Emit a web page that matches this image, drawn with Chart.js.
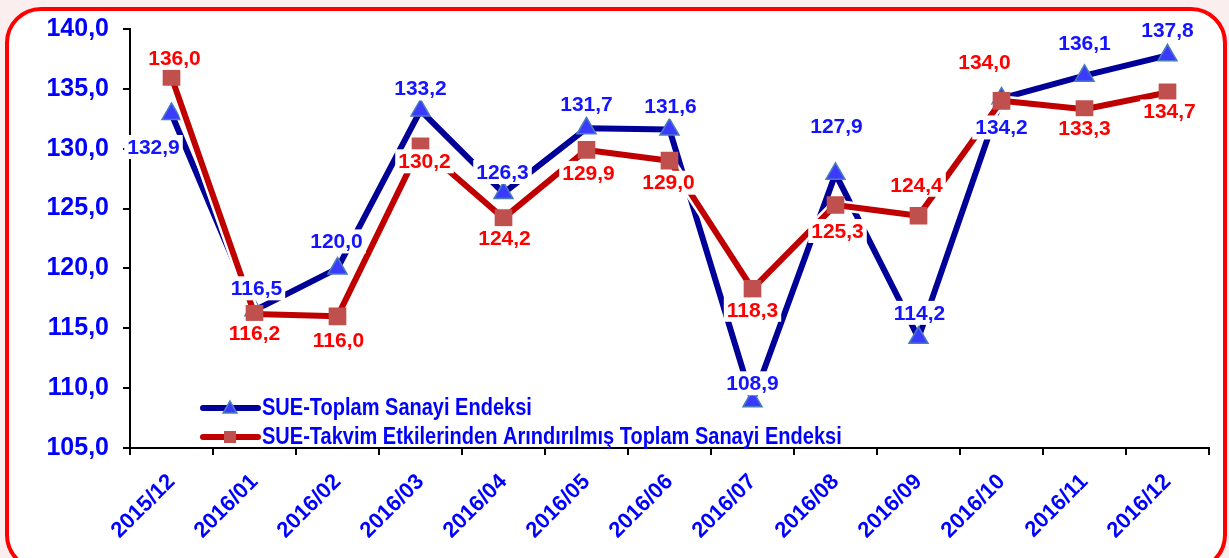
<!DOCTYPE html>
<html>
<head>
<meta charset="utf-8">
<script src="https://cdn.jsdelivr.net/npm/chart.js@4/dist/chart.umd.min.js"></script>
<style>
  html, body { margin: 0; padding: 0; background: #fbeeee; }
  #wrap { width: 1229px; height: 558px; position: relative; }
</style>
</head>
<body>
<div id="wrap"><canvas id="chart" width="1229" height="558"></canvas></div>
<script>
let months = ["2015/12", "2016/01", "2016/02", "2016/03", "2016/04", "2016/05", "2016/06",
              "2016/07", "2016/08", "2016/09", "2016/10", "2016/11", "2016/12"]
let toplam = [132.9, 116.5, 120.0, 133.2, 126.3, 131.7, 131.6, 108.9, 127.9, 114.2, 134.2, 136.1, 137.8]
let takvim = [136.0, 116.2, 116.0, 130.2, 124.2, 129.9, 129.0, 118.3, 125.3, 124.4, 134.0, 133.3, 134.7]
let seriesNames = ["SUE-Toplam Sanayi Endeksi", "SUE-Takvim Etkilerinden Arındırılmış Toplam Sanayi Endeksi"]
let yTicks = [105, 110, 115, 120, 125, 130, 135, 140]

// label placement (dx, dy from the point), not data
const blueOff = [[-18, 33], [2, -22], [-1, -27], [0, -22], [-1, -21], [0, -24], [1, -23],
                 [0, -18], [1, -48], [1, -25], [0, 29], [0, -32], [0, -25]]
const redOff = [[3, -19], [0, 19], [1, 24], [4, 15], [1, 20], [2, 23], [-1, 22],
                [0, 21], [2, 26], [-2, -31], [-17, -39], [0, 19], [2, 19]]

const FONT = '"Liberation Sans", Arial, sans-serif'
const BLUE = '#000099', RED = '#c00000'

const framePlugin = {
  id: 'frame',
  beforeDraw(chart) {
    const c = chart.ctx
    c.save()
    c.fillStyle = '#fbeeee'
    c.fillRect(0, 0, chart.width, chart.height)
    c.beginPath()
    c.roundRect(7, 9, 1218, 560, 34)
    c.fillStyle = '#ffffff'
    c.fill()
    c.lineWidth = 4
    c.strokeStyle = '#ff0000'
    c.stroke()
    c.restore()
  }
}

function drawTri(c, x, y, r) {
  c.beginPath()
  c.moveTo(x, y - r)
  c.lineTo(x + r * 0.866, y + r * 0.5)
  c.lineTo(x - r * 0.866, y + r * 0.5)
  c.closePath()
  c.fillStyle = '#3b3bff'
  c.fill()
  c.lineWidth = 1.5
  c.strokeStyle = '#4a7ebb'
  c.stroke()
}

const labelPlugin = {
  id: 'labels',
  afterDatasetsDraw(chart) {
    const c = chart.ctx
    c.save()
    c.font = 'bold 21px ' + FONT
    c.textAlign = 'center'
    c.textBaseline = 'middle'
    const sets = [[1, toplam, blueOff, '#1414ff'], [3, takvim, redOff, '#ff0000']]
    sets.forEach(([idx, vals, off, col]) => {
      const meta = chart.getDatasetMeta(idx)
      meta.data.forEach((pt, i) => {
        const txt = vals[i].toFixed(1).replace('.', ',')
        const x = pt.x + off[i][0], y = pt.y + off[i][1]
        const w = c.measureText(txt).width
        c.fillStyle = '#ffffff'
        c.fillRect(x - w / 2 - 3, y - 12, w + 6, 24)
        c.fillStyle = col
        c.fillText(txt, x, y + 1)
      })
    })
    c.restore()
  },
  afterDraw(chart) {
    const c = chart.ctx
    c.save()
    const rows = [[408, BLUE, 'tri'], [437, RED, 'sq']]
    rows.forEach(([y, col, mk], i) => {
      c.beginPath()
      c.moveTo(203, y); c.lineTo(258, y)
      c.lineWidth = 6; c.lineCap = 'round'; c.strokeStyle = col
      c.stroke()
      if (mk === 'tri') drawTri(c, 230, y + 1, 8)
      else { c.fillStyle = '#c0504d'; c.fillRect(224, y - 6, 12, 12) }
      c.save()
      c.translate(262, y)
      c.scale(0.87, 1)
      c.font = 'bold 23px ' + FONT
      c.fillStyle = '#0000ff'
      c.textBaseline = 'middle'
      c.fillText(seriesNames[i], 0, 1)
      c.restore()
    })
    c.restore()
  }
}

const ctx = document.getElementById('chart').getContext('2d')

new Chart(ctx, {
  type: 'line',
  data: {
    labels: months,
    datasets: [
      { label: 'outline1', data: toplam, borderColor: '#ffffff', borderWidth: 11, pointRadius: 0, order: 4 },
      { label: seriesNames[0], data: toplam, borderColor: BLUE, borderWidth: 6, order: 3,
        pointStyle: 'triangle', pointRadius: 11, pointBackgroundColor: '#3b3bff',
        pointBorderColor: '#4a7ebb', pointBorderWidth: 1.5 },
      { label: 'outline2', data: takvim, borderColor: '#ffffff', borderWidth: 11, pointRadius: 0, order: 2 },
      { label: seriesNames[1], data: takvim, borderColor: RED, borderWidth: 6, order: 1,
        pointStyle: 'rect', pointRadius: 12.5, pointBackgroundColor: '#c0504d',
        pointBorderColor: '#c0504d', pointBorderWidth: 0 }
    ]
  },
  options: {
    responsive: false,
    animation: false,
    layout: { padding: { left: 0, right: 20, top: 23, bottom: 0 } },
    plugins: { legend: { display: false }, tooltip: { enabled: false } },
    elements: { line: { tension: 0, borderJoinStyle: 'round' } },
    scales: {
      x: {
        offset: true,
        grid: { offset: true, drawOnChartArea: false, tickLength: 7, color: '#000', lineWidth: 2 },
        border: { color: '#000', width: 2 },
        ticks: { color: '#0000ff', font: { family: FONT, size: 22, weight: 'bold' },
                 minRotation: 45, maxRotation: 45, padding: 14 },
        afterFit(s) { s.height = 110 }
      },
      y: {
        min: yTicks[0], max: yTicks[yTicks.length - 1],
        afterBuildTicks(s) { s.ticks = yTicks.map(v => ({ value: v })) },
        grid: { drawOnChartArea: false, tickLength: 7, color: '#000', lineWidth: 2 },
        border: { color: '#000', width: 2 },
        ticks: { color: '#0000ff', font: { family: FONT, size: 25, weight: 'bold' }, padding: 14,
                 callback: v => v.toFixed(1).replace('.', ',') },
        afterFit(s) { s.width = 130 }
      }
    }
  },
  plugins: [framePlugin, labelPlugin]
})
</script>
</body>
</html>
